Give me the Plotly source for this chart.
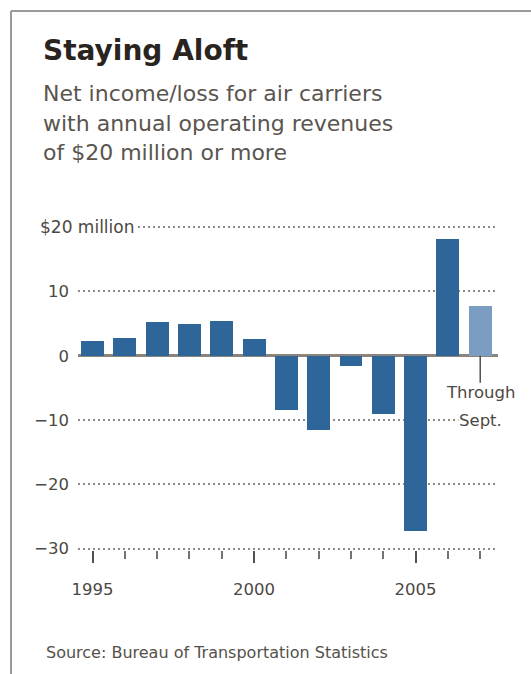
import plotly.graph_objects as go

# ---- data ----
years = [1995, 1996, 1997, 1998, 1999, 2000, 2001, 2002, 2003, 2004, 2005, 2006, 2007]
net_income = [2.3, 2.8, 5.2, 4.9, 5.4, 2.6, -8.4, -11.5, -1.6, -9.1, -27.3, 18.1, 7.7]
partial_year = [False] * 12 + [True]
y_tickvals = [-30, -20, -10, 0, 10, 20]
y_ticktext = ["\u221230", "\u221220", "\u221210", "0", "10", ""]
x_tickvals = [1995, 2000, 2005]

title = "Staying Aloft"
subtitle_lines = ["Net income/loss for air carriers",
                  "with annual operating revenues",
                  "of $20 million or more"]
source = "Source: Bureau of Transportation Statistics"

# ---- layout geometry ----
W, H = 531, 674
ML, MR, MT, MB = 78, 33, 220, 124
PW, PH = W - ML - MR, H - MT - MB


def px(x):
    return (x - ML) / PW


def py(y):
    return (H - MB - y) / PH


FONT = "DejaVu Sans"
DARK = "#2f6699"
LIGHT = "#7b9dc2"
colors = [LIGHT if p else DARK for p in partial_year]

fig = go.Figure()
fig.add_trace(go.Bar(
    x=years, y=net_income, width=0.71,
    marker=dict(color=colors, line=dict(width=0)),
    hoverinfo="x+y",
))

annotations = [
    dict(text="<b>" + title + "</b>", xref="paper", yref="paper",
         x=px(41), y=py(51), xanchor="left", yanchor="middle", showarrow=False,
         font=dict(family=FONT, size=28, color="#2a241f")),
]
for i, line in enumerate(subtitle_lines):
    annotations.append(dict(text=line, xref="paper", yref="paper",
                            x=px(41), y=py(93 + 30 * i), xanchor="left", yanchor="middle",
                            showarrow=False,
                            font=dict(family=FONT, size=22, color="#5a554f")))
annotations.append(dict(text=source, xref="paper", yref="paper",
                        x=px(44), y=py(652), xanchor="left", yanchor="middle",
                        showarrow=False,
                        font=dict(family=FONT, size=16, color="#55504a")))
annotations.append(dict(text="$20 million", xref="paper", yref="y",
                        x=px(37), y=20, xanchor="left", yanchor="middle",
                        showarrow=False, bgcolor="white", borderpad=2,
                        font=dict(family=FONT, size=17, color="#4d4843")))
annotations.append(dict(text="Through", xref="x", yref="y",
                        x=years[-1], y=0, ax=0, ay=37, showarrow=True,
                        arrowhead=0, arrowwidth=1.5, arrowcolor="#55504a",
                        bgcolor="white", borderpad=0,
                        font=dict(family=FONT, size=16.5, color="#4d4843")))
annotations.append(dict(text="Sept.", xref="x", yref="y",
                        x=years[-1], y=-10, showarrow=False,
                        bgcolor="white", borderpad=0,
                        font=dict(family=FONT, size=16.5, color="#4d4843")))

frame = dict(color="#9a9a9a", width=2)
shapes = [
    dict(type="line", xref="paper", yref="paper", x0=px(11), x1=px(W), y0=py(11), y1=py(11), line=frame),
    dict(type="line", xref="paper", yref="paper", x0=px(11), x1=px(11), y0=py(11), y1=py(H), line=frame),
]

fig.update_layout(
    width=W, height=H,
    margin=dict(l=ML, r=MR, t=MT, b=MB),
    paper_bgcolor="white", plot_bgcolor="white",
    showlegend=False,
    annotations=annotations,
    shapes=shapes,
    bargap=0,
)
fig.update_xaxes(
    range=[1994.55, 2007.55],
    tickvals=x_tickvals, ticktext=[str(v) for v in x_tickvals],
    ticks="outside", ticklen=12, tickwidth=2, tickcolor="#55504a",
    ticklabelstandoff=12,
    minor=dict(ticks="outside", dtick=1, tick0=1995, ticklen=8, tickwidth=1.5,
               tickcolor="#77726c", showgrid=False),
    showgrid=False, zeroline=False, showline=False,
    tickfont=dict(family=FONT, size=16.5, color="#4d4843"),
    fixedrange=True,
)
fig.update_yaxes(
    range=[-30.2, 21.1],
    tickvals=y_tickvals, ticktext=y_ticktext,
    ticks="", ticklabelstandoff=8,
    showgrid=True, gridcolor="#8f8a85", gridwidth=1.5, griddash="2px,3px",
    zeroline=True, zerolinecolor="#8a847c", zerolinewidth=2.5,
    showline=False,
    tickfont=dict(family=FONT, size=16.5, color="#4d4843"),
    fixedrange=True,
)

fig.write_html("out.html")
